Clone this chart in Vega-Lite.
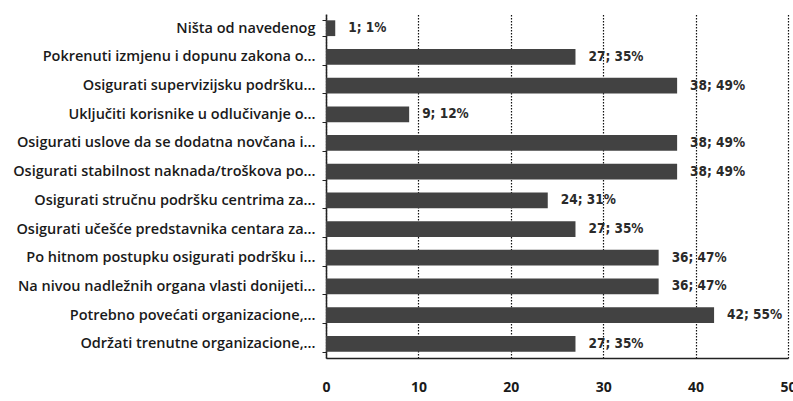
{
  "$schema": "https://vega.github.io/schema/vega-lite/v6.json",
  "autosize": "none",
  "width": 462,
  "height": 344,
  "padding": {"left": 326, "top": 14, "right": 5, "bottom": 43},
  "background": "white",
  "data": {
    "values": [
      {"k": "Ništa od navedenog", "v": 1, "l": "1; 1%"},
      {"k": "Pokrenuti izmjenu i dopunu zakona o...", "v": 27, "l": "27; 35%"},
      {"k": "Osigurati supervizijsku podršku...", "v": 38, "l": "38; 49%"},
      {"k": "Uključiti korisnike u odlučivanje o...", "v": 9, "l": "9; 12%"},
      {"k": "Osigurati uslove da se dodatna novčana i...", "v": 38, "l": "38; 49%"},
      {"k": "Osigurati stabilnost naknada/troškova po...", "v": 38, "l": "38; 49%"},
      {"k": "Osigurati stručnu podršku centrima za...", "v": 24, "l": "24; 31%"},
      {"k": "Osigurati učešće predstavnika centara za...", "v": 27, "l": "27; 35%"},
      {"k": "Po hitnom postupku osigurati podršku i...", "v": 36, "l": "36; 47%"},
      {"k": "Na nivou nadležnih organa vlasti donijeti...", "v": 36, "l": "36; 47%"},
      {"k": "Potrebno povećati organizacione,...", "v": 42, "l": "42; 55%"},
      {"k": "Održati trenutne organizacione,...", "v": 27, "l": "27; 35%"}
    ]
  },
  "encoding": {
    "y": {
      "field": "k", "type": "nominal", "sort": null,
      "scale": {"paddingInner": 0.45, "paddingOuter": 0.22},
      "axis": {
        "title": null, "labelFont": "Open Sans", "labelFontSize": 14.5, "labelFontWeight": 600, "labelColor": "#1a1a1a",
        "labelLimit": 330, "labelPadding": 7, "tickBand": "extent", "tickSize": 4,
        "tickColor": "#222", "domainColor": "#222", "domainWidth": 1.5, "grid": false
      }
    },
    "x": {
      "field": "v", "type": "quantitative",
      "scale": {"domain": [0, 50], "nice": false},
      "axis": {
        "title": null, "values": [0, 10, 20, 30, 40, 50], "labelFont": "Open Sans", "labelFontWeight": "bold",
        "labelFontSize": 14, "labelColor": "#1a1a1a", "labelPadding": 22, "ticks": false, "labelFlush": false,
        "labelBound": false, "domainColor": "#222", "domainWidth": 1.5,
        "grid": true, "gridColor": "#111", "gridDash": [1.5, 1.5], "gridWidth": 1.2
      }
    }
  },
  "layer": [
    {"mark": {"type": "bar", "color": "#424242"}},
    {
      "mark": {"type": "text", "align": "left", "dx": 13, "font": "DejaVu Sans Condensed", "fontWeight": "bold", "fontSize": 13.5, "color": "#2a2a2a"},
      "encoding": {"text": {"field": "l"}}
    }
  ],
  "config": {"view": {"stroke": null}}
}
